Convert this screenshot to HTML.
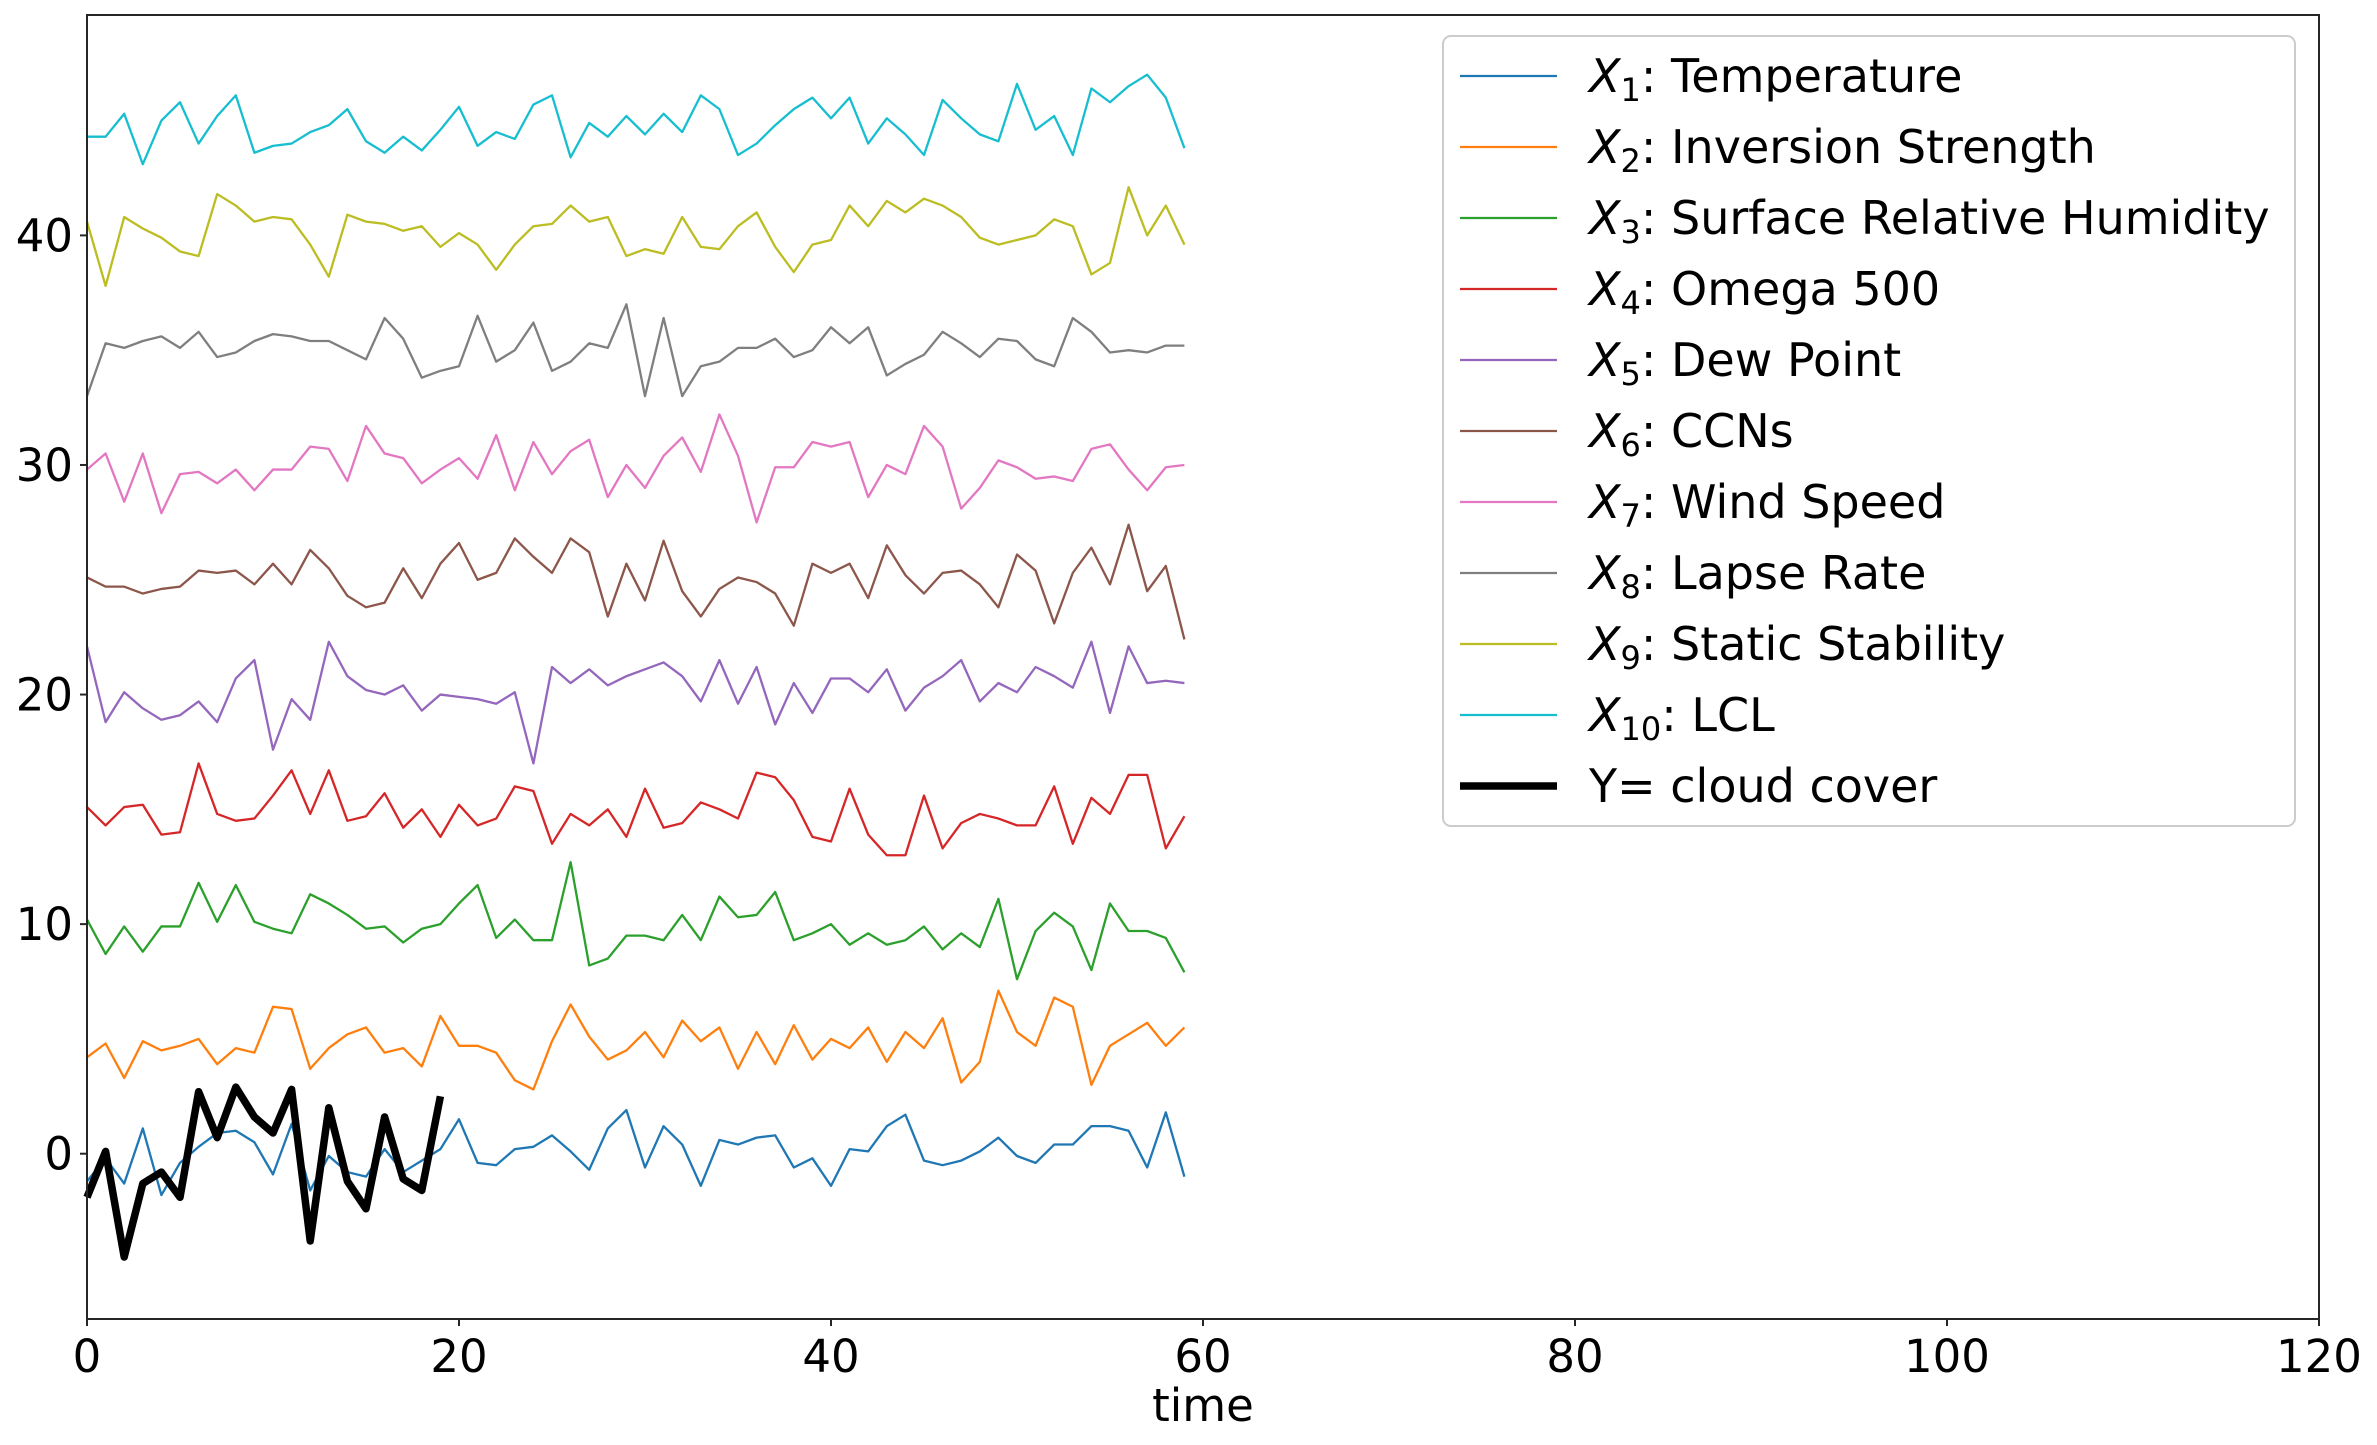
<!DOCTYPE html>
<html><head><meta charset="utf-8"><style>
html,body{margin:0;padding:0;background:#fff;}
svg{display:block;font-family:"DejaVu Sans","Liberation Sans",sans-serif;}
</style></head><body>
<svg id="chart" width="2377" height="1445" viewBox="0 0 2377 1445" xmlns="http://www.w3.org/2000/svg">
<rect width="2377" height="1445" fill="#fff"/>
<g id="series"></g>
<g id="axes"></g>
<g id="legend"></g>
</svg>
<script>
const xTicks = [0, 20, 40, 60, 80, 100, 120];
const yTicks = [0, 10, 20, 30, 40];
const seriesNames = ["Temperature","Inversion Strength","Surface Relative Humidity","Omega 500","Dew Point","CCNs","Wind Speed","Lapse Rate","Static Stability","LCL"];
const seriesColors = ["#1f77b4","#ff7f0e","#2ca02c","#d62728","#9467bd","#8c564b","#e377c2","#7f7f7f","#bcbd22","#17becf"];
const x1 = [-1.2,-0.2,-1.3,1.1,-1.8,-0.4,0.3,0.9,1.0,0.5,-0.9,1.3,-1.6,-0.1,-0.8,-1.0,0.2,-0.8,-0.3,0.2,1.5,-0.4,-0.5,0.2,0.3,0.8,0.1,-0.7,1.1,1.9,-0.6,1.2,0.4,-1.4,0.6,0.4,0.7,0.8,-0.6,-0.2,-1.4,0.2,0.1,1.2,1.7,-0.3,-0.5,-0.3,0.1,0.7,-0.1,-0.4,0.4,0.4,1.2,1.2,1.0,-0.6,1.8,-1.0];
const x2 = [4.2,4.8,3.3,4.9,4.5,4.7,5.0,3.9,4.6,4.4,6.4,6.3,3.7,4.6,5.2,5.5,4.4,4.6,3.8,6.0,4.7,4.7,4.4,3.2,2.8,4.9,6.5,5.1,4.1,4.5,5.3,4.2,5.8,4.9,5.5,3.7,5.3,3.9,5.6,4.1,5.0,4.6,5.5,4.0,5.3,4.6,5.9,3.1,4.0,7.1,5.3,4.7,6.8,6.4,3.0,4.7,5.2,5.7,4.7,5.5];
const x3 = [10.2,8.7,9.9,8.8,9.9,9.9,11.8,10.1,11.7,10.1,9.8,9.6,11.3,10.9,10.4,9.8,9.9,9.2,9.8,10.0,10.9,11.7,9.4,10.2,9.3,9.3,12.7,8.2,8.5,9.5,9.5,9.3,10.4,9.3,11.2,10.3,10.4,11.4,9.3,9.6,10.0,9.1,9.6,9.1,9.3,9.9,8.9,9.6,9.0,11.1,7.6,9.7,10.5,9.9,8.0,10.9,9.7,9.7,9.4,7.9];
const x4 = [15.1,14.3,15.1,15.2,13.9,14.0,17.0,14.8,14.5,14.6,15.6,16.7,14.8,16.7,14.5,14.7,15.7,14.2,15.0,13.8,15.2,14.3,14.6,16.0,15.8,13.5,14.8,14.3,15.0,13.8,15.9,14.2,14.4,15.3,15.0,14.6,16.6,16.4,15.4,13.8,13.6,15.9,13.9,13.0,13.0,15.6,13.3,14.4,14.8,14.6,14.3,14.3,16.0,13.5,15.5,14.8,16.5,16.5,13.3,14.7];
const x5 = [22.1,18.8,20.1,19.4,18.9,19.1,19.7,18.8,20.7,21.5,17.6,19.8,18.9,22.3,20.8,20.2,20.0,20.4,19.3,20.0,19.9,19.8,19.6,20.1,17.0,21.2,20.5,21.1,20.4,20.8,21.1,21.4,20.8,19.7,21.5,19.6,21.2,18.7,20.5,19.2,20.7,20.7,20.1,21.1,19.3,20.3,20.8,21.5,19.7,20.5,20.1,21.2,20.8,20.3,22.3,19.2,22.1,20.5,20.6,20.5];
const x6 = [25.1,24.7,24.7,24.4,24.6,24.7,25.4,25.3,25.4,24.8,25.7,24.8,26.3,25.5,24.3,23.8,24.0,25.5,24.2,25.7,26.6,25.0,25.3,26.8,26.0,25.3,26.8,26.2,23.4,25.7,24.1,26.7,24.5,23.4,24.6,25.1,24.9,24.4,23.0,25.7,25.3,25.7,24.2,26.5,25.2,24.4,25.3,25.4,24.8,23.8,26.1,25.4,23.1,25.3,26.4,24.8,27.4,24.5,25.6,22.4];
const x7 = [29.8,30.5,28.4,30.5,27.9,29.6,29.7,29.2,29.8,28.9,29.8,29.8,30.8,30.7,29.3,31.7,30.5,30.3,29.2,29.8,30.3,29.4,31.3,28.9,31.0,29.6,30.6,31.1,28.6,30.0,29.0,30.4,31.2,29.7,32.2,30.4,27.5,29.9,29.9,31.0,30.8,31.0,28.6,30.0,29.6,31.7,30.8,28.1,29.0,30.2,29.9,29.4,29.5,29.3,30.7,30.9,29.8,28.9,29.9,30.0];
const x8 = [33.0,35.3,35.1,35.4,35.6,35.1,35.8,34.7,34.9,35.4,35.7,35.6,35.4,35.4,35.0,34.6,36.4,35.5,33.8,34.1,34.3,36.5,34.5,35.0,36.2,34.1,34.5,35.3,35.1,37.0,33.0,36.4,33.0,34.3,34.5,35.1,35.1,35.5,34.7,35.0,36.0,35.3,36.0,33.9,34.4,34.8,35.8,35.3,34.7,35.5,35.4,34.6,34.3,36.4,35.8,34.9,35.0,34.9,35.2,35.2];
const x9 = [40.6,37.8,40.8,40.3,39.9,39.3,39.1,41.8,41.3,40.6,40.8,40.7,39.6,38.2,40.9,40.6,40.5,40.2,40.4,39.5,40.1,39.6,38.5,39.6,40.4,40.5,41.3,40.6,40.8,39.1,39.4,39.2,40.8,39.5,39.4,40.4,41.0,39.5,38.4,39.6,39.8,41.3,40.4,41.5,41.0,41.6,41.3,40.8,39.9,39.6,39.8,40.0,40.7,40.4,38.3,38.8,42.1,40.0,41.3,39.6];
const x10 = [44.3,44.3,45.3,43.1,45.0,45.8,44.0,45.2,46.1,43.6,43.9,44.0,44.5,44.8,45.5,44.1,43.6,44.3,43.7,44.6,45.6,43.9,44.5,44.2,45.7,46.1,43.4,44.9,44.3,45.2,44.4,45.3,44.5,46.1,45.5,43.5,44.0,44.8,45.5,46.0,45.1,46.0,44.0,45.1,44.4,43.5,45.9,45.1,44.4,44.1,46.6,44.6,45.2,43.5,46.4,45.8,46.5,47.0,46.0,43.8];
const cloudCover = [-1.9,0.1,-4.5,-1.3,-0.8,-1.9,2.7,0.7,2.9,1.6,0.9,2.8,-3.8,2.0,-1.2,-2.4,1.6,-1.1,-1.6,2.5];

const NS = "http://www.w3.org/2000/svg";
const L = 87, R = 2319, T = 15, B = 1319;
const xMin = 0, xMax = 120, yMin = -7.2, yMax = 49.6;
const sx = v => L + (v - xMin) / (xMax - xMin) * (R - L);
const sy = v => B - (v - yMin) / (yMax - yMin) * (B - T);
function mk(tag, attrs, parent) {
  const e = document.createElementNS(NS, tag);
  for (const k in attrs) e.setAttribute(k, attrs[k]);
  parent.appendChild(e);
  return e;
}
const gS = document.getElementById('series');
const gA = document.getElementById('axes');
const gL = document.getElementById('legend');
const allX = [x1,x2,x3,x4,x5,x6,x7,x8,x9,x10];
allX.forEach((arr, k) => {
  const p = mk('polyline', {points: arr.map((v,i)=>sx(i)+','+sy(v)).join(' '), fill:'none', stroke:seriesColors[k], 'stroke-width':2.3, 'stroke-linejoin':'round'}, gS);
  
  
});
const cl = mk('polyline', {points: cloudCover.map((v,i)=>sx(i)+','+sy(v)).join(' '), fill:'none', stroke:'#000', 'stroke-width':7.5, 'stroke-linejoin':'round'}, gS);



const frame = mk('rect', {x:L, y:T, width:R-L, height:B-T, fill:'none', stroke:'#262626', 'stroke-width':2}, gA);


xTicks.forEach(v => {
  mk('line', {x1:sx(v), x2:sx(v), y1:B, y2:B+7, stroke:'#262626', 'stroke-width':2}, gA);
  const t = mk('text', {x:sx(v), y:B+53, 'font-size':45, 'text-anchor':'middle', fill:'#000'}, gA);
  t.textContent = v;
  
  
});
yTicks.forEach(v => {
  mk('line', {x1:L-7, x2:L, y1:sy(v), y2:sy(v), stroke:'#262626', 'stroke-width':2}, gA);
  const t = mk('text', {x:L-14, y:sy(v)+16, 'font-size':45, 'text-anchor':'end', fill:'#000'}, gA);
  t.textContent = v;
  
  
});
const xl = mk('text', {x:(L+R)/2, y:1421, 'font-size':45, 'text-anchor':'middle', fill:'#000'}, gA);
xl.textContent = 'time';



const lb = mk('rect', {x:1443, y:36, width:852, height:790, rx:8, fill:'#fff', 'fill-opacity':0.8, stroke:'#ccc', 'stroke-width':2}, gL);


const rowY0 = 76, rowDy = 71;
for (let k = 0; k < 11; k++) {
  const y = rowY0 + k * rowDy;
  const isY = k === 10;
  mk('line', {x1:1460, x2:1557, y1:y, y2:y, stroke: isY ? '#000' : seriesColors[k], 'stroke-width': isY ? 7.5 : 2.3}, gL);
  const t = mk('text', {x:1589, y:y+16, 'font-size':46, fill:'#000'}, gL);
  
  
  if (isY) { t.textContent = 'Y= cloud cover'; }
  else {
    const a = mk('tspan', {'font-style':'italic'}, t); a.textContent = 'X';
    const b = mk('tspan', {'font-size':32, dy:9}, t); b.textContent = String(k+1);
    const c = mk('tspan', {dy:-9}, t); c.textContent = ': ' + seriesNames[k];
  }
}
</script>
</body></html>
